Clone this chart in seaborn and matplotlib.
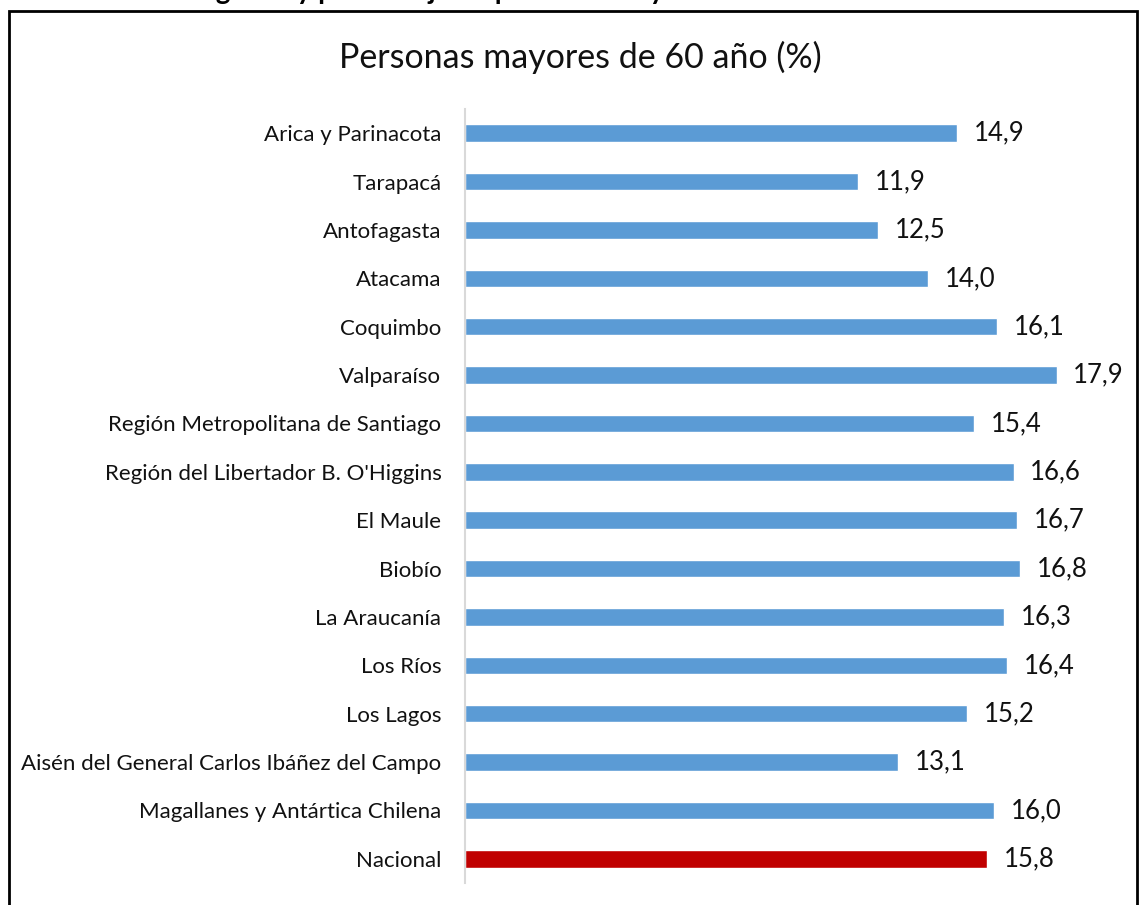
import matplotlib
matplotlib.use('Agg')
import matplotlib.pyplot as plt
from matplotlib.patches import Rectangle
import seaborn as sns
import pandas as pd

regiones = ['Arica y Parinacota', 'Tarapacá', 'Antofagasta', 'Atacama', 'Coquimbo',
            'Valparaíso', 'Región Metropolitana de Santiago',
            "Región del Libertador B. O'Higgins", 'El Maule', 'Biobío',
            'La Araucanía', 'Los Ríos', 'Los Lagos',
            'Aisén del General Carlos Ibáñez del Campo',
            'Magallanes y Antártica Chilena', 'Nacional']
porcentajes = [14.9, 11.9, 12.5, 14.0, 16.1, 17.9, 15.4, 16.6, 16.7, 16.8,
               16.3, 16.4, 15.2, 13.1, 16.0, 15.8]
grupo = ['Región'] * 15 + ['Nacional']

titulo = 'Personas mayores de 60 año (%)'
encabezado = 'Distribución regional y porcentaje de personas mayores de 60 años'

df = pd.DataFrame({'region': regiones, 'pct': porcentajes, 'grupo': grupo})

sns.set_style('white')
plt.rcParams['font.family'] = ['Lato', 'DejaVu Sans']

fig = plt.figure(figsize=(11.4, 9.05), dpi=100)
ax = fig.add_axes([465 / 1140, 1 - 883 / 905, 661 / 1140, 774 / 905])

sns.barplot(data=df, y='region', x='pct', hue='grupo', orient='h',
            palette={'Región': '#5B9BD5', 'Nacional': '#C00000'},
            saturation=1, width=0.36, dodge=False, legend=False, ax=ax)

ax.set_xlim(0, 20)
ax.set_ylim(15.5, -0.5)
ax.set_xlabel('')
ax.set_ylabel('')
ax.set_xticks([])
ax.tick_params(axis='y', length=0, pad=17, labelsize=16, labelcolor='#111111')
for s in ['top', 'right', 'bottom']:
    ax.spines[s].set_visible(False)
ax.spines['left'].set_color('#d9d9d9')
ax.spines['left'].set_linewidth(1.5)

for cont in ax.containers:
    ax.bar_label(cont, labels=[f'{v:.1f}'.replace('.', ',') for v in cont.datavalues],
                 padding=12, fontsize=18.5, color='#111111')

fig.text(0.509, 1 - 57 / 905, titulo, ha='center', va='center', fontsize=24.5,
         color='#111111')

# caption of the page cut off at the top
fig.text(32 / 1140, 1 + 1 / 905, encabezado, ha='left', va='baseline',
         fontsize=20, fontweight='bold', color='black')

fig.patches.append(Rectangle((9 / 1140, -0.05), (1137 - 9) / 1140, 1.05 - 11 / 905,
                             transform=fig.transFigure, fill=False,
                             edgecolor='black', linewidth=2))

fig.savefig('out.png', dpi=100)
